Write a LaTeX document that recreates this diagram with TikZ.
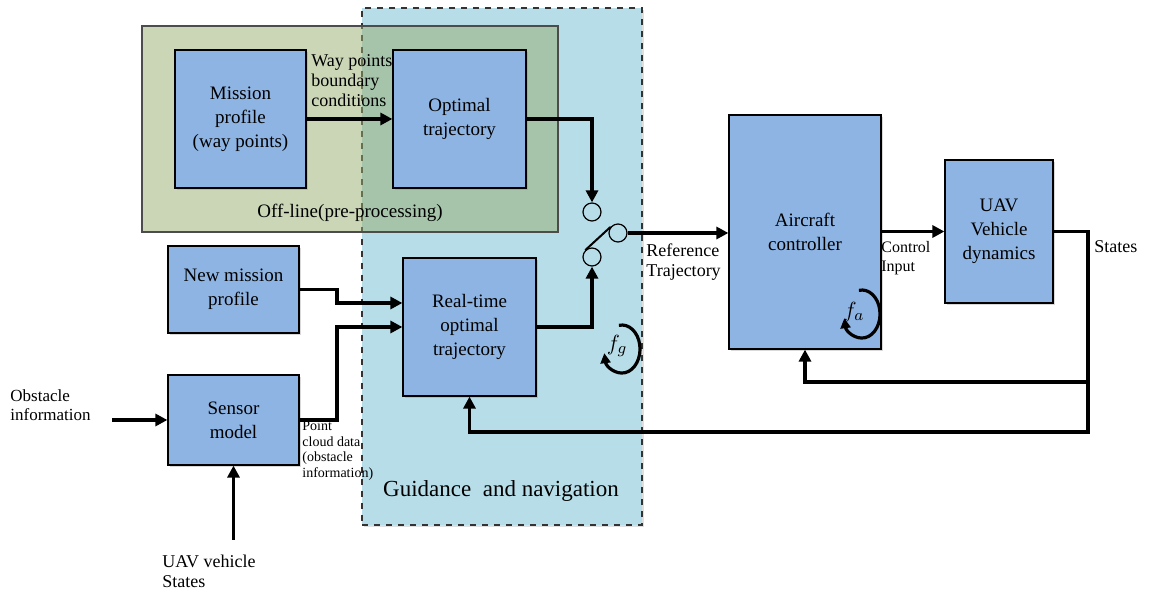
\documentclass[tikz,border=0pt]{standalone}
\usepackage{fontspec}
\setmainfont{Liberation Serif}
\usetikzlibrary{arrows.meta,shadows,calc}

\definecolor{blockblue}{HTML}{8EB4E3}
\definecolor{guideblue}{HTML}{B7DDE8}
\definecolor{offolive}{HTML}{95AD6D}

\tikzset{
  block/.style={draw, line width=0.6pt, fill=blockblue, align=center, inner sep=0pt,
    font=\fontsize{9.5}{12}\selectfont,
    drop shadow={opacity=0.3, shadow xshift=0.8pt, shadow yshift=-0.8pt}},
  flow/.style={line width=1.8pt, -{Triangle[length=6pt,width=6pt]}},
  wire/.style={line width=1.8pt},
  spin/.style={line width=1.6pt, -{Triangle[length=5pt,width=5pt]}},
  contact/.style={circle, draw, line width=0.6pt, minimum size=9pt, inner sep=0pt},
  lbl/.style={inner sep=0pt, align=left, anchor=west},
}

\begin{document}
\begin{tikzpicture}[x=0.5pt, y=-0.5pt]
    \useasboundingbox (0,0) rectangle (1152,592);

    % regions
    \node[draw, dashed, line width=0.6pt, draw=black!80, fill=guideblue, minimum width=140pt, minimum height=258.5pt,
      drop shadow={opacity=0.25, shadow xshift=0.8pt, shadow yshift=-0.8pt}] (guide) at (502,266.5) {};
    \node[draw, line width=0.6pt, draw=black!70, fill=offolive, fill opacity=0.5, minimum width=208pt, minimum height=103pt] (offline) at (350,129) {};
    \node[font=\fontsize{9.5}{12}\selectfont] (offlbl) at (350,213) {Off-line(pre-processing)};
    \node[font=\fontsize{11.5}{14}\selectfont] (guidelbl) at (501,491) {Guidance\ \ and navigation};

    % blocks
    \node[block, minimum width=65.5pt, minimum height=69pt] (mission) at (240.5,119) {Mission\\profile\\(way points)};
    \node[block, minimum width=66.5pt, minimum height=69pt] (optimal) at (459.5,119) {Optimal\\trajectory};
    \node[block, minimum width=65.5pt, minimum height=43.5pt] (newmission) at (233.5,289.5) {New mission\\profile};
    \node[block, minimum width=66.5pt, minimum height=69pt] (realtime) at (469.5,327) {Real-time\\optimal\\trajectory};
    \node[block, minimum width=65.5pt, minimum height=45pt] (sensor) at (233.5,420) {Sensor\\model};
    \node[block, minimum width=76pt, minimum height=117pt] (aircraft) at (805,232) {Aircraft\\controller};
    \node[block, minimum width=54pt, minimum height=71.5pt] (uav) at (999,231.5) {UAV\\Vehicle\\dynamics};

    % switch
    \node[contact] (upper) at (592,212) {};
    \node[contact] (lower) at (592,257) {};
    \node[contact] (common) at (618,233) {};
    \draw[line width=1pt] (lower.135) -- (common.140);

    % labels
    \node[lbl, font=\fontsize{9}{10}\selectfont] (wplbl) at (311,81) {Way points\\boundary\\conditions};
    \node[lbl, font=\fontsize{9}{10}\selectfont] (reflbl) at (646,262) {Reference\\Trajectory};
    \node[lbl, font=\fontsize{8}{9.5}\selectfont] (ctrllbl) at (881,258) {Control\\Input};
    \node[lbl, font=\fontsize{9}{10}\selectfont] (stateslbl) at (1094,247) {States};
    \node[lbl, font=\fontsize{7}{7.8}\selectfont] (cloudlbl) at (302,451) {Point\\cloud data\\(obstacle\\information)};
    \node[lbl, font=\fontsize{8.5}{9.5}\selectfont] (obslbl) at (10,405) {Obstacle\\information};
    \node[lbl, font=\fontsize{9}{10}\selectfont] (uavstlbl) at (162,571) {UAV vehicle\\States};

    % corner points
    \coordinate (jn) at (337,303);
    \coordinate (js) at (337,327);
    \coordinate (obsin) at (112,420);
    \coordinate (statesin) at (233.5,540);
    \coordinate (tap1) at (1088,382);
    \coordinate (tap2) at (1088,432);

    % signal flow
    \draw[flow] (mission) -- (optimal);
    \draw[flow] (optimal.east) -| (upper.north);
    \draw[flow] (realtime.east) -| (lower.south);
    \draw[flow] (common.east) -- (common.east -| aircraft.west);
    \draw[flow] (aircraft.east |- uav.west) -- (uav.west);
    \draw[flow] (newmission.east) -| (jn) -- (jn -| realtime.west);
    \draw[flow] (sensor.east) -| (js) -- (realtime.west);
    \draw[flow] (obsin) -- (sensor.west);
    \draw[flow] (statesin) -- (sensor.south);

    % feedback
    \draw[flow] (uav.east) -| (tap2) -| (realtime.south);
    \draw[flow] (tap1) -| (aircraft.south);

    % update rates
    \coordinate (fgc) at (622,349);
    \node[font=\fontsize{11}{13}\selectfont] (fg) at (617,346) {$f_g$};
    \draw[spin] ($(fgc)+(-3.1,-23.6)$) arc[start angle=-100, end angle=170, x radius=18, y radius=24];
    \coordinate (fac) at (862,314);
    \node[font=\fontsize{11}{13}\selectfont] (fa) at (854,312) {$f_a$};
    \draw[spin] ($(fac)+(-3.1,-23.6)$) arc[start angle=-100, end angle=170, x radius=18, y radius=24];
\end{tikzpicture}
\end{document}
